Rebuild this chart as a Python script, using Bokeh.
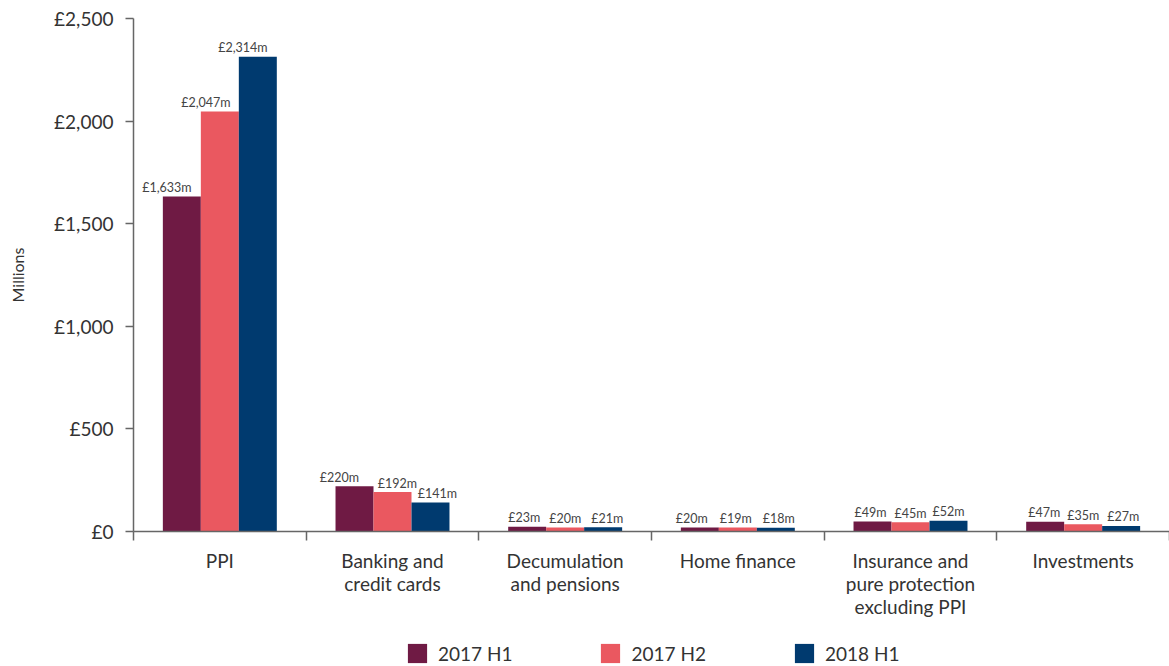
from bokeh.plotting import figure
from bokeh.layouts import column
from bokeh.models import (Range1d, LinearAxis, FixedTicker, Legend, LegendItem,
                          ColumnDataSource)
from bokeh.transform import dodge
from bokeh.core.properties import value
from bokeh.embed import file_html
from bokeh.resources import INLINE

# ---- data ----
categories = ["PPI", "Banking and\ncredit cards", "Decumulation\nand pensions",
              "Home finance", "Insurance and\npure protection\nexcluding PPI", "Investments"]
series_names = ["2017 H1", "2017 H2", "2018 H1"]
h1_2017 = [1633, 220, 23, 20, 49, 47]
h2_2017 = [2047, 192, 20, 19, 45, 35]
h1_2018 = [2314, 141, 21, 18, 52, 27]
y_ticks = [0, 500, 1000, 1500, 2000, 2500]
y_tick_labels = ["£0", "£500", "£1,000", "£1,500", "£2,000", "£2,500"]

# ---- style ----
colors = ["#6F1A44", "#EA5860", "#003A6F"]
offsets = [-0.22, 0.0, 0.22]
bar_w = 0.22
label_dx = [  # per series, per category (screen px)
    [-15, -15, -3, -8, -2, -1],
    [-14, 5, 0, -2, 0, 0],
    [-15, 7, 4, 3, 0, 2],
]
FONT = "Lato"
TXT = "#333333"
AX = "#666666"

n = len(categories)
xs = [i + 0.5 for i in range(n)]
series = [h1_2017, h2_2017, h1_2018]
src = ColumnDataSource(dict(x=xs, s0=h1_2017, s1=h2_2017, s2=h1_2018,
                            l0=[f"£{v:,}m" for v in h1_2017],
                            l1=[f"£{v:,}m" for v in h2_2017],
                            l2=[f"£{v:,}m" for v in h1_2018],
                            d0=label_dx[0], d1=label_dx[1], d2=label_dx[2]))

p = figure(width=1169, height=626, x_range=Range1d(0, n), y_range=Range1d(0, 2500),
           output_backend="svg", toolbar_location=None, x_axis_type=None,
           min_border_left=133, min_border_right=0, min_border_top=18, min_border_bottom=95)
p.outline_line_color = None
p.grid.visible = False

for k, key in enumerate(["s0", "s1", "s2"]):
    p.vbar(x=dodge("x", offsets[k], range=p.x_range), top=key, width=bar_w,
           source=src, fill_color=colors[k], line_color=None)
    p.text(x=dodge("x", offsets[k], range=p.x_range), y=key, text=f"l{k}",
           x_offset=f"d{k}", y_offset=-9, source=src, text_align="center",
           text_baseline="alphabetic", text_font=value(FONT), text_font_size="12.5px",
           text_color="#444444")

# y axis
ya = p.yaxis[0]
ya.ticker = FixedTicker(ticks=y_ticks)
ya.major_label_overrides = {t: l for t, l in zip(y_ticks, y_tick_labels)}
ya.minor_tick_line_color = None
ya.major_tick_in = 0
ya.major_tick_out = 8
ya.axis_line_color = AX
ya.axis_line_width = 1.5
ya.major_tick_line_color = AX
ya.major_tick_line_width = 1.5
ya.major_label_text_font = FONT
ya.major_label_text_font_size = "19px"
ya.major_label_text_color = TXT
ya.major_label_standoff = 12
ya.axis_label = "Millions"
ya.axis_label_text_font = FONT
ya.axis_label_text_font_size = "16px"
ya.axis_label_text_font_style = "normal"
ya.axis_label_text_color = TXT
ya.axis_label_standoff = 24

# x axis: boundary ticks
xa1 = LinearAxis(ticker=FixedTicker(ticks=list(range(n + 1))),
                 major_label_overrides={i: "" for i in range(n + 1)},
                 major_label_text_font_size="0px", major_label_standoff=0,
                 axis_line_color=AX, axis_line_width=1.5,
                 major_tick_line_color=AX, major_tick_line_width=1.5,
                 major_tick_in=0, major_tick_out=9, minor_tick_line_color=None)
p.add_layout(xa1, "below")
# x axis: category labels
xa2 = LinearAxis(ticker=FixedTicker(ticks=xs),
                 major_label_overrides={x: c for x, c in zip(xs, categories)},
                 axis_line_color=None, major_tick_line_color=None,
                 minor_tick_line_color=None, major_tick_in=0, major_tick_out=0,
                 major_label_standoff=8, major_label_text_font=FONT,
                 major_label_text_font_size="19px", major_label_text_color=TXT,
                 major_label_text_line_height=1.0)
p.add_layout(xa2, "below")

# legend strip (its frame is aligned with the main frame by the column layout);
# its ranges keep the key renderers' bars out of view, only the legend shows
pl = figure(width=1169, height=40, x_range=Range1d(1000, 1006), y_range=Range1d(1e6, 1e6 + 1),
            output_backend="svg", toolbar_location=None, x_axis_type=None,
            y_axis_type=None, min_border=0)
pl.outline_line_color = None
pl.grid.visible = False
keys = [pl.vbar(x=xs, top=series[k], width=bar_w, fill_color=colors[k], line_color=None)
        for k in range(3)]
legend = Legend(items=[LegendItem(label=series_names[k], renderers=[keys[k]])
                       for k in range(3)],
                orientation="horizontal", location=(272, 1),
                glyph_width=24, glyph_height=24, label_standoff=9, spacing=86,
                label_text_font=FONT, label_text_font_size="19px", label_text_color=TXT,
                border_line_color=None, background_fill_alpha=0, padding=0, margin=0)
pl.add_layout(legend, "center")

layout = column(p, pl, spacing=0)
open("out.html", "w").write(file_html(layout, INLINE))
